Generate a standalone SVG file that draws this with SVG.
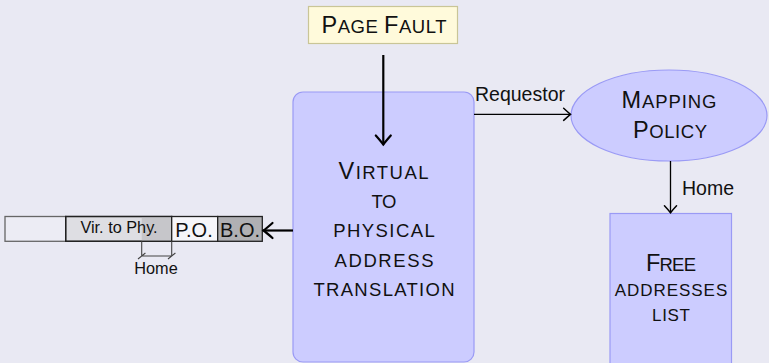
<svg xmlns="http://www.w3.org/2000/svg" width="769" height="363" viewBox="0 0 769 363">
  <style>
    text { font-family: "Liberation Sans", Arial, Helvetica, sans-serif; fill: #111; }
    .sc { text-anchor: middle; font-size: 18.5px; }
    .cap { font-size: 23.5px; }
    .blue { fill: #ccccff; stroke: #9a9af5; stroke-width: 1.2; }
    .thick { fill: none; stroke: #000; stroke-width: 2.2; }
    .thin { fill: none; stroke: #000; stroke-width: 1.3; }
    .lbl { font-size: 19.5px; }
    .cell { stroke: #222; stroke-width: 1.3; }
    .brk { fill: none; stroke: #444; stroke-width: 1.1; }
  </style>
  <defs>
    <marker id="headThick" markerUnits="userSpaceOnUse" markerWidth="20" markerHeight="20" viewBox="-11 -10 12 20" refX="0" refY="0" orient="auto">
      <path d="M -9 -7.5 Q -3 -2.2 0 0 Q -3 2.2 -9 7.5" fill="none" stroke="#000" stroke-width="2.2" stroke-linecap="round"/>
    </marker>
    <marker id="headThin" markerUnits="userSpaceOnUse" markerWidth="16" markerHeight="16" viewBox="-8 -7 9 14" refX="0" refY="0" orient="auto">
      <path d="M -6 -5.3 Q -2 -1.6 0 0 Q -2 1.6 -6 5.3" fill="none" stroke="#000" stroke-width="1.3" stroke-linecap="round"/>
    </marker>
  </defs>

  <rect x="0" y="0" width="769" height="363" fill="#e9e9f3"/>

  <!-- trigger -->
  <g id="page-fault">
    <rect x="308.5" y="6.5" width="149" height="37" fill="#fffadb" stroke="#c9c597" stroke-width="1.2"/>
    <text class="sc" x="384" y="32.7" textLength="125" lengthAdjust="spacing"><tspan class="cap">P</tspan>AGE <tspan class="cap">F</tspan>AULT</text>
  </g>

  <!-- translation unit -->
  <g id="translation">
    <rect class="blue" x="293" y="92" width="181" height="270" rx="10" ry="10"/>
    <text class="sc" x="383.5" y="179" textLength="90" lengthAdjust="spacing"><tspan class="cap">V</tspan>IRTUAL</text>
    <text class="sc" x="384" y="208.2" textLength="25" lengthAdjust="spacing">TO</text>
    <text class="sc" x="384" y="237.4" textLength="101.5" lengthAdjust="spacing">PHYSICAL</text>
    <text class="sc" x="384" y="266.6" textLength="99" lengthAdjust="spacing">ADDRESS</text>
    <text class="sc" x="384" y="295.8" textLength="141" lengthAdjust="spacing">TRANSLATION</text>
  </g>

  <!-- mapping policy -->
  <g id="mapping-policy">
    <ellipse class="blue" cx="669" cy="115.5" rx="98" ry="45.5"/>
    <text class="sc" x="669" y="107.7" textLength="95" lengthAdjust="spacing"><tspan class="cap">M</tspan>APPING</text>
    <text class="sc" x="670" y="138.3" textLength="74" lengthAdjust="spacing"><tspan class="cap">P</tspan>OLICY</text>
  </g>

  <!-- free list -->
  <g id="free-list">
    <rect class="blue" x="610" y="213.5" width="121.5" height="160"/>
    <text class="sc" x="671" y="271" textLength="50" lengthAdjust="spacing"><tspan class="cap">F</tspan>REE</text>
    <text class="sc" x="671" y="295.7" textLength="112.5" lengthAdjust="spacing" style="font-size:17px">ADDRESSES</text>
    <text class="sc" x="671" y="320.5" textLength="38" lengthAdjust="spacing" style="font-size:17px">LIST</text>
  </g>

  <!-- address layout -->
  <g id="address">
    <rect x="5" y="216.5" width="60.7" height="24.8" fill="#ececf4" stroke="#666" stroke-width="1.3"/>
    <rect class="cell" x="65.7" y="216.5" width="106" height="24.8" fill="#dedee3"/>
    <rect x="141.7" y="217.2" width="30" height="23.4" fill="#c6c6ca"/>
    <rect class="cell" x="65.7" y="216.5" width="106" height="24.8" fill="none"/>
    <rect class="cell" x="171.7" y="216.5" width="46" height="24.8" fill="#f6f6fa"/>
    <rect class="cell" x="217.7" y="216.5" width="44.6" height="24.8" fill="#b0b0b3"/>
    <text x="119" y="232.7" text-anchor="middle" style="font-size:16.3px">Vir. to Phy.</text>
    <text x="194" y="236.7" text-anchor="middle" style="font-size:20px">P.O.</text>
    <text x="240" y="236.7" text-anchor="middle" style="font-size:20px">B.O.</text>
    <path class="brk" d="M141.7 241.3 V256 M171.7 241.3 V256 M141.7 256 H171.7 M138 259 L145.4 253 M168 259 L175.4 253"/>
    <text x="156" y="274" text-anchor="middle" style="font-size:16.3px">Home</text>
  </g>

  <!-- connectors -->
  <g id="connectors">
    <path class="thick" d="M383.3 55 V144.5" marker-end="url(#headThick)"/>
    <path class="thick" d="M293 230.5 H263.5" marker-end="url(#headThick)"/>
    <path class="thin" d="M474 114.3 H570.5" marker-end="url(#headThin)"/>
    <text class="lbl" x="475" y="100.7">Requestor</text>
    <path class="thin" d="M670.5 161 V212.7" marker-end="url(#headThin)"/>
    <text class="lbl" x="682" y="195">Home</text>
  </g>
</svg>
